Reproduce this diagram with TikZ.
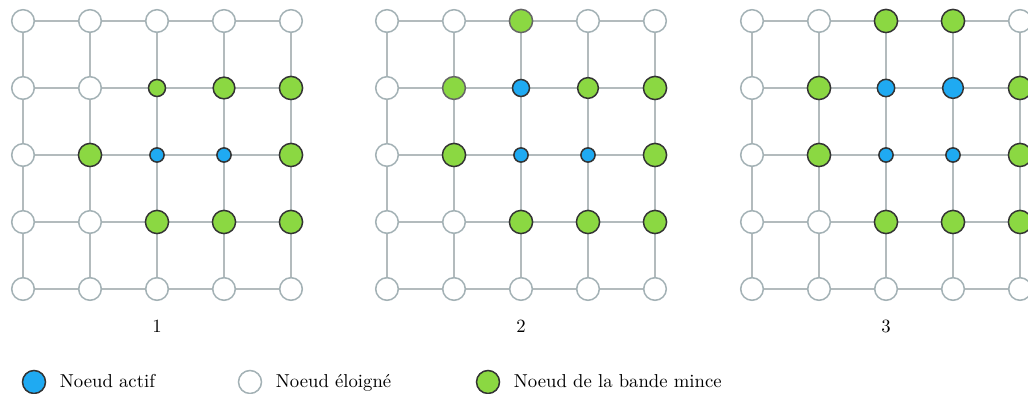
\documentclass[tikz,border=0pt]{standalone}
\usepackage{tikz}
\usetikzlibrary{positioning,backgrounds}

\definecolor{activeblue}{HTML}{1FAAF2}
\definecolor{bandgreen}{HTML}{8BD842}
\definecolor{bandline}{HTML}{333333}
\definecolor{freshline}{HTML}{666666}
\definecolor{farline}{HTML}{A3B1B5}
\definecolor{linkgray}{HTML}{B3BBBD}

\begin{document}
\begin{tikzpicture}[x=0.535pt,y=-0.535pt,
  dot/.style={circle,inner sep=0pt,line width=0.8pt},
  far/.style={dot,draw=farline,fill=white},
  band/.style={dot,draw=bandline,fill=bandgreen},
  fresh/.style={dot,draw=freshline,fill=bandgreen},
  active/.style={dot,draw=bandline,fill=activeblue},
  legtext/.style={text height=1.5ex,text depth=0.25ex},
  link/.style={draw=linkgray,line width=0.9pt}]
  \useasboundingbox (0,0) rectangle (1028,394);

  % three snapshots of the grid
  \foreach \g/\ox in {1/23,2/387,3/752} {
    % nodes that stay the same in every snapshot
    \foreach \c/\r in {0/0,1/0,4/0,0/1,0/2,0/3,1/3,0/4,1/4,2/4,3/4,4/4}
      \node[far,minimum size=12.1pt] (g\g-\c-\r) at (\ox+67*\c,21+67*\r) {};
    \foreach \c/\r in {4/1,4/2,2/3,3/3,4/3}
      \node[band,minimum size=12.4pt] (g\g-\c-\r) at (\ox+67*\c,21+67*\r) {};
    \foreach \c/\r in {2/2,3/2}
      \node[active,minimum size=7.6pt] (g\g-\c-\r) at (\ox+67*\c,21+67*\r) {};
    \node (lab\g) at (\ox+134,326) {\g};
  }

  % what changes from one snapshot to the next
  \foreach \c/\r/\s/\d in {2/0/far/12.1,3/0/far/12.1,1/1/far/12.1,
                           2/1/band/9.1,3/1/band/11.6,1/2/band/12.4}
    \node[\s,minimum size=\d pt] (g1-\c-\r) at (23+67*\c,21+67*\r) {};
  \foreach \c/\r/\s/\d in {2/0/fresh/12.4,3/0/far/12.1,1/1/fresh/12.2,
                           2/1/active/9.1,3/1/band/11.1,1/2/band/12.4}
    \node[\s,minimum size=\d pt] (g2-\c-\r) at (387+67*\c,21+67*\r) {};
  \foreach \c/\r/\s/\d in {2/0/band/12.4,3/0/band/12.4,1/1/band/12.4,
                           2/1/active/9.3,3/1/active/11.1,1/2/band/12.4}
    \node[\s,minimum size=\d pt] (g3-\c-\r) at (752+67*\c,21+67*\r) {};

  % grid links behind the nodes
  \begin{scope}[on background layer]
    \foreach \g in {1,2,3}
      \foreach \c/\n in {0/1,1/2,2/3,3/4}
        \foreach \r in {0,...,4} {
          \draw[link] (g\g-\c-\r.center) -- (g\g-\n-\r.center);
          \draw[link] (g\g-\r-\c.center) -- (g\g-\r-\n.center);
        }
  \end{scope}

  % legend
  \node[active,minimum size=12.3pt] (legact) at (34,382) {};
  \node[legtext,right=3.8pt of legact] (txtact) {Noeud actif};
  \node[far,minimum size=12.3pt] (legfar) at (250,382) {};
  \node[legtext,right=3.8pt of legfar] (txtfar) {Noeud éloigné};
  \node[band,minimum size=12.3pt] (legband) at (488,382) {};
  \node[legtext,right=3.8pt of legband] (txtband) {Noeud de la bande mince};
\end{tikzpicture}
\end{document}
